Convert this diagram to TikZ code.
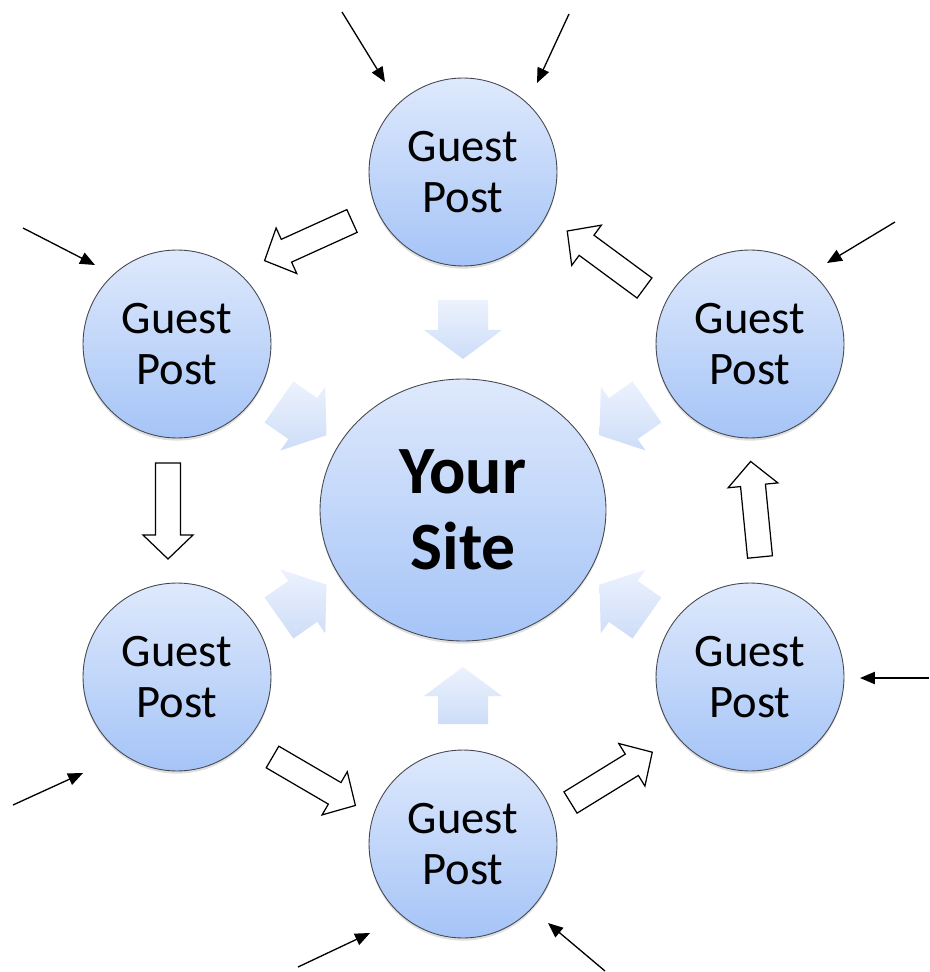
\documentclass[tikz,border=0pt]{standalone}
\usepackage{fontspec}
\setmainfont{Carlito}
\usetikzlibrary{arrows.meta,shapes.geometric,shadows}

\definecolor{discTop}{RGB}{222,233,252}
\definecolor{discBot}{RGB}{165,196,247}
\definecolor{softTop}{RGB}{236,242,253}
\definecolor{softBot}{RGB}{205,221,248}
\definecolor{rim}{RGB}{70,72,80}

\begin{document}
\begin{tikzpicture}[x=0.02cm,y=-0.02cm,
  disc/.style={circle, draw=rim, line width=0.5pt,
    top color=discTop, bottom color=discBot,
    minimum size=3.76cm, inner sep=0pt, align=center,
    font=\fontsize{26.5}{29.5}\selectfont,
    drop shadow={shadow xshift=0pt, shadow yshift=-1.5pt, opacity=0.25}},
  hub/.style={ellipse, draw=rim, line width=0.5pt,
    top color=discTop, bottom color=discBot,
    minimum width=5.72cm, minimum height=5.24cm, inner sep=0pt, align=center,
    font=\fontsize{38.5}{43}\selectfont\bfseries,
    drop shadow={shadow xshift=0pt, shadow yshift=-1.5pt, opacity=0.25}},
  soft/.style={top color=softTop, bottom color=softBot, draw=none},
  feed/.style={line width=0.75pt, -{Triangle[length=8.5pt,width=7pt]}},
  blockarr/.pic={\draw[line width=0.7pt, fill=white, line join=miter]
    (0,-12.5) -- (72,-12.5) -- (72,-25) -- (96,0) -- (72,25) -- (72,12.5) -- (0,12.5) -- cycle;}
]
\useasboundingbox[fill=white] (0,0) rectangle (929,972);

% discs
\node[hub]  (C)  at (463,510) {Your\\Site};
\node[disc] (T)  at (463,172) {Guest\\Post};
\node[disc] (UL) at (177,344) {Guest\\Post};
\node[disc] (UR) at (750,344) {Guest\\Post};
\node[disc] (LL) at (177,677) {Guest\\Post};
\node[disc] (LR) at (750,677) {Guest\\Post};
\node[disc] (B)  at (463,844) {Guest\\Post};

% pale arrows pointing into the hub
\path[soft] (438,300) -- (438,330) -- (424,330) -- (463,359) -- (502,330) -- (488,330) -- (488,300) -- cycle;
\path[soft] (438,724) -- (438,696) -- (424,696) -- (463,667) -- (502,696) -- (488,696) -- (488,724) -- cycle;
\path[soft] (293.4,381.5) -- (317.2,398.1) -- (325.2,386.7) -- (326.5,435.3) -- (280.4,450.5) -- (288.4,439.1) -- (264.6,422.5) -- cycle;
\path[soft] (632.6,381.5) -- (608.8,398.1) -- (600.8,386.7) -- (599.5,435.3) -- (645.6,450.5) -- (637.6,439.1) -- (661.4,422.5) -- cycle;
\path[soft] (293.4,638.5) -- (317.2,621.9) -- (325.2,633.3) -- (326.5,584.7) -- (280.4,569.5) -- (288.4,580.9) -- (264.6,597.5) -- cycle;
\path[soft] (632.6,638.5) -- (608.8,621.9) -- (600.8,633.3) -- (599.5,584.7) -- (645.6,569.5) -- (637.6,580.9) -- (661.4,597.5) -- cycle;

% outlined arrows running round the ring
\pic[rotate=204.4] at (352,221)   {blockarr};
\pic[rotate=-90]   at (168,463)   {blockarr};
\pic[rotate=-30.3] at (272.5,757) {blockarr};
\pic[rotate=31.6]  at (570.5,802.5) {blockarr};
\pic[rotate=95.6]  at (760,557)   {blockarr};
\pic[rotate=143.6] at (644.5,288) {blockarr};

% incoming links
\coordinate (s1) at (342,12);   \coordinate (e1) at (385,82);
\coordinate (s2) at (569,14);   \coordinate (e2) at (537,83);
\coordinate (s3) at (895,222);  \coordinate (e3) at (827,263);
\coordinate (s4) at (23,228);   \coordinate (e4) at (95,265);
\coordinate (s5) at (13,805);   \coordinate (e5) at (83,773);
\coordinate (s6) at (298,967);  \coordinate (e6) at (370,933);
\coordinate (s7) at (605,971);  \coordinate (e7) at (548,923);
\coordinate (s8) at (929,678);  \coordinate (e8) at (860,678);
\foreach \k in {1,...,8} \draw[feed] (s\k) -- (e\k);
\end{tikzpicture}
\end{document}
